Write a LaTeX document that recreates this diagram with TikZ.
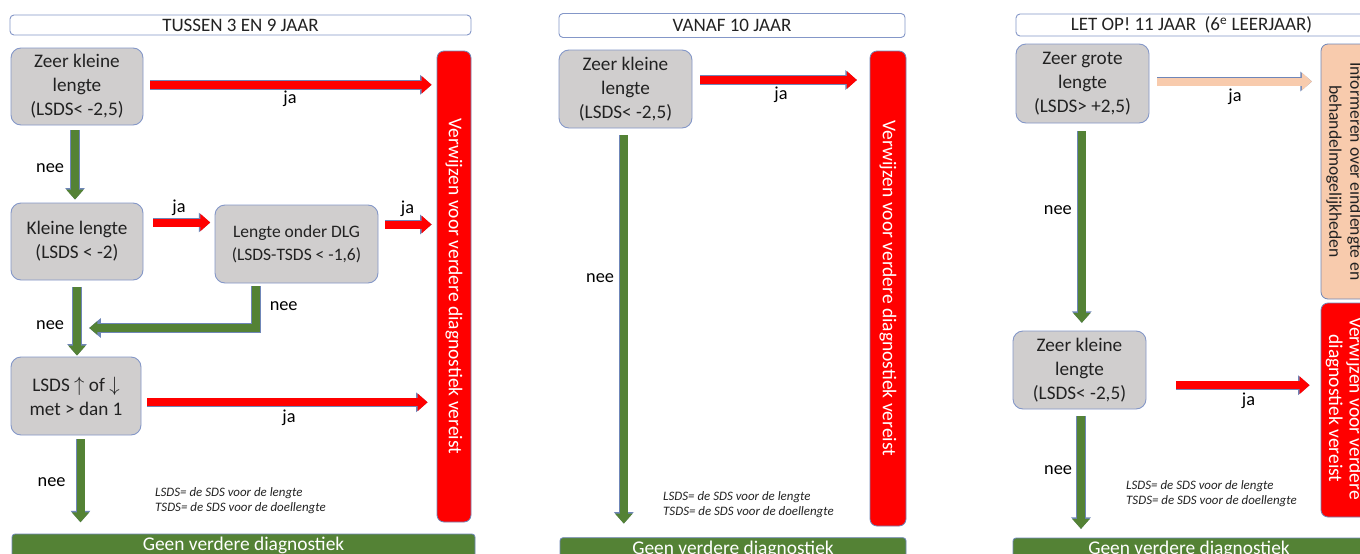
\documentclass[tikz,border=0pt]{standalone}
\usepackage{fontspec}
\setmainfont{Carlito}
\usetikzlibrary{arrows.meta}
\definecolor{boxgray}{HTML}{D0CECE}
\definecolor{boxline}{HTML}{8497C8}
\definecolor{arrred}{HTML}{FF0000}
\definecolor{grn}{HTML}{548235}
\definecolor{peach}{HTML}{F8CBAD}
\definecolor{arrline}{HTML}{6F86B8}
\definecolor{txt}{HTML}{222222}
\tikzset{
  cond/.style={draw=boxline, line width=0.9pt, fill=boxgray, rounded corners=10pt, align=center, text=txt, font=\fontsize{19.2}{24}\selectfont, inner sep=0pt},
  titlebox/.style={draw=boxline, line width=0.9pt, fill=white, rounded corners=4pt, text=txt, font=\fontsize{19}{20}\selectfont, inner sep=0pt},
  redbox/.style={draw=arrline, line width=0.8pt, fill=arrred, rounded corners=7pt, inner sep=0pt},
  peachbox/.style={draw=arrline, line width=0.8pt, fill=peach, rounded corners=7pt, inner sep=0pt},
  bar/.style={draw=arrline, line width=0.8pt, fill=grn, rounded corners=3pt, inner sep=0pt},
  bartext/.style={text=white, font=\fontsize{19.4}{22}\selectfont, inner sep=0pt, anchor=base},
  vtext/.style={rotate=-90, align=center, font=\fontsize{19.5}{20.5}\selectfont, inner sep=0pt},
  lbl/.style={font=\fontsize{18.3}{20}\selectfont, text=black, inner sep=0pt},
  note/.style={font=\fontsize{12.9}{15.5}\selectfont\itshape, text=txt, align=left, anchor=west, inner sep=0pt},
  arr/.style={line width=8pt, line join=miter, -{Triangle[width=17pt,length=10pt]}},
  redarr/.style={arr, draw=arrred, preaction={draw=arrline, line width=9.4pt, -{Triangle[width=19pt,length=11.5pt]}}},
  peacharr/.style={arr, draw=peach, preaction={draw=arrline, line width=9.4pt, -{Triangle[width=19pt,length=11.5pt]}}},
  grnarr/.style={arr, draw=grn, preaction={draw=arrline, line width=9.2pt, -{Triangle[width=19pt,length=11.5pt]}}},
}
\begin{document}
\begin{tikzpicture}[x=1pt,y=-1pt]
\clip (0,0) rectangle (1360,554);
\fill[white] (0,0) rectangle (1360,554);

% ---------------- Panel 1 ----------------
\node[titlebox, minimum width=461pt, minimum height=20pt] (t1) at (240.5,25) {TUSSEN 3 EN 9 JAAR};
\node[cond, minimum width=132pt, minimum height=77pt] (a1) at (77,86.5) {Zeer kleine\\lengte\\(LSDS< -2,5)};
\node[cond, minimum width=132pt, minimum height=77pt] (b1) at (77,241.5) {Kleine lengte\\(LSDS < -2)};
\node[cond, minimum width=163pt, minimum height=78pt, font=\fontsize{17.5}{22.5}\selectfont] (c1) at (296.5,244) {Lengte onder DLG\\(LSDS-TSDS < -1,6)};
\node[cond, minimum width=130pt, minimum height=78pt] (d1) at (76,396) {LSDS $\big\uparrow$ of $\big\downarrow$\\met > dan 1};
\node[redbox, minimum width=34pt, minimum height=471pt] (r1) at (454,286.5) {};
\node[vtext, text=white] (r1t) at (r1.center) {Verwijzen voor verdere diagnostiek vereist};
\node[bar, minimum width=463pt, minimum height=30pt] (g1) at (243.5,549) {};
\node[bartext] (g1t) at (243.5,550.5) {Geen verdere diagnostiek};
\coordinate (m1) at (89.3,328);

\draw[redarr, shorten <=7pt, shorten >=5pt] ([yshift=1.7pt]a1.east) -- ([yshift=1.7pt]a1.east -| r1.west) node[lbl, midway, yshift=-14pt] (j1) {ja};
\draw[grnarr, shorten <=5pt, shorten >=3pt] ([xshift=-2pt]a1.south) -- ([xshift=-2pt]a1.south |- b1.north) node[lbl, pos=0.55, left=7pt] (n1) {nee};
\draw[redarr, shorten <=9.7pt, shorten >=4.3pt] ([yshift=19pt]b1.east) -- ([yshift=19pt]b1.east -| c1.west) node[lbl, midway, yshift=15pt] (j2) {ja};
\draw[redarr, shorten <=7pt, shorten >=5pt] ([yshift=19.5pt]c1.east) -- ([yshift=19.5pt]c1.east -| r1.west) node[lbl, midway, yshift=16pt] (j3) {ja};
\draw[grnarr, shorten <=6.7pt, shorten >=1pt] (b1.south) -- (b1.south |- d1.north) node[lbl, pos=0.59, left=9pt] (n2) {nee};
\draw[grnarr, line width=7.5pt, shorten <=2.7pt, -{Triangle[width=13pt,length=8pt]}, preaction={draw=arrline, line width=8.8pt, -{Triangle[width=15pt,length=9.3pt]}}] ([xshift=-40.5pt]c1.south) |- (m1) node[lbl, pos=0.25, right=10pt] (n3) {nee};
\draw[redarr, shorten <=5.7pt, shorten >=9pt] ([yshift=-6.3pt]d1.east) -- ([yshift=-6.3pt]d1.east -| r1.west) node[lbl, midway, yshift=-15.5pt] (j4) {ja};
\draw[grnarr, shorten <=4pt, shorten >=11.3pt] ([xshift=4.5pt]d1.south) -- ([xshift=4.5pt]d1.south |- g1.north) node[lbl, pos=0.48, left=11pt] (n4) {nee};
\node[note] (note1) at (155,500.5) {LSDS= de SDS voor de lengte\\TSDS= de SDS voor de doellengte};

% ---------------- Panel 2 ----------------
\node[titlebox, minimum width=346pt, minimum height=24pt] (t2) at (732,25.5) {VANAF 10 JAAR};
\node[cond, minimum width=133pt, minimum height=78pt] (a2) at (625.5,89) {Zeer kleine\\lengte\\(LSDS< -2,5)};
\node[redbox, minimum width=36pt, minimum height=475pt] (r2) at (888,288.5) {};
\node[vtext, text=white] (r2t) at (r2.center) {Verwijzen voor verdere diagnostiek vereist};
\node[bar, minimum width=346pt, minimum height=30pt] (g2) at (733,552.7) {};
\node[bartext] (g2t) at (733,554) {Geen verdere diagnostiek};

\draw[redarr, shorten <=8pt, shorten >=12.7pt] ([yshift=9pt]a2.east) -- ([yshift=9pt]a2.east -| r2.west) node[lbl, midway, yshift=-15pt] (j5) {ja};
\draw[grnarr, line width=7.5pt, shorten <=7pt, shorten >=13.7pt] ([xshift=-1.7pt]a2.south) -- ([xshift=-1.7pt]a2.south |- g2.north) node[lbl, pos=0.366, left=6pt] (n5) {nee};
\node[note] (note2) at (663,504.5) {LSDS= de SDS voor de lengte\\TSDS= de SDS voor de doellengte};

% ---------------- Panel 3 ----------------
\node[titlebox, minimum width=351pt, minimum height=22pt] (t3) at (1191.5,25) {LET OP! 11 JAAR\ \ (6\textsuperscript{e} LEERJAAR)};
\node[cond, minimum width=133pt, minimum height=79pt] (a3) at (1082.5,83.5) {Zeer grote\\lengte\\(LSDS> +2,5)};
\node[peachbox, minimum width=47pt, minimum height=255pt] (p3) at (1344.5,171.5) {};
\node[vtext, text=txt, font=\fontsize{17.6}{21}\selectfont] (p3t) at (p3.center) {Informeren over eindlengte en\\behandelmogelijkheden};
\node[cond, minimum width=133pt, minimum height=78pt] (b3) at (1079.5,370) {Zeer kleine\\lengte\\(LSDS< -2,5)};
\node[redbox, minimum width=47pt, minimum height=214pt] (r3) at (1344.5,410) {};
\node[vtext, text=white] (r3t) at ([yshift=1.5pt]r3.center) {Verwijzen voor verdere\\diagnostiek vereist};
\node[bar, minimum width=360pt, minimum height=30pt] (g3) at (1193,553) {};
\node[bartext] (g3t) at (1189,554) {Geen verdere diagnostiek};

\draw[peacharr, shorten <=7.7pt, shorten >=8.7pt] ([yshift=2pt]a3.east) -- ([yshift=2pt]a3.east -| p3.west) node[lbl, midway, yshift=-15.5pt] (j6) {ja};
\draw[grnarr, shorten <=8pt, shorten >=7.7pt] ([xshift=-0.7pt]a3.south) -- ([xshift=-0.7pt]a3.south |- b3.north) node[lbl, pos=0.42, left=6pt] (n6) {nee};
\draw[redarr, shorten <=30pt, shorten >=11pt] ([yshift=-15.2pt]b3.east) -- ([yshift=-15.2pt]b3.east -| r3.west) node[lbl, midway, yshift=-16pt, xshift=15pt] (j7) {ja};
\draw[grnarr, shorten <=6.7pt, shorten >=8.7pt] ([xshift=1.5pt]b3.south) -- ([xshift=1.5pt]b3.south |- g3.north) node[lbl, pos=0.47, left=5pt] (n7) {nee};
\node[note] (note3) at (1126,493.5) {LSDS= de SDS voor de lengte\\TSDS= de SDS voor de doellengte};
\end{tikzpicture}
\end{document}
